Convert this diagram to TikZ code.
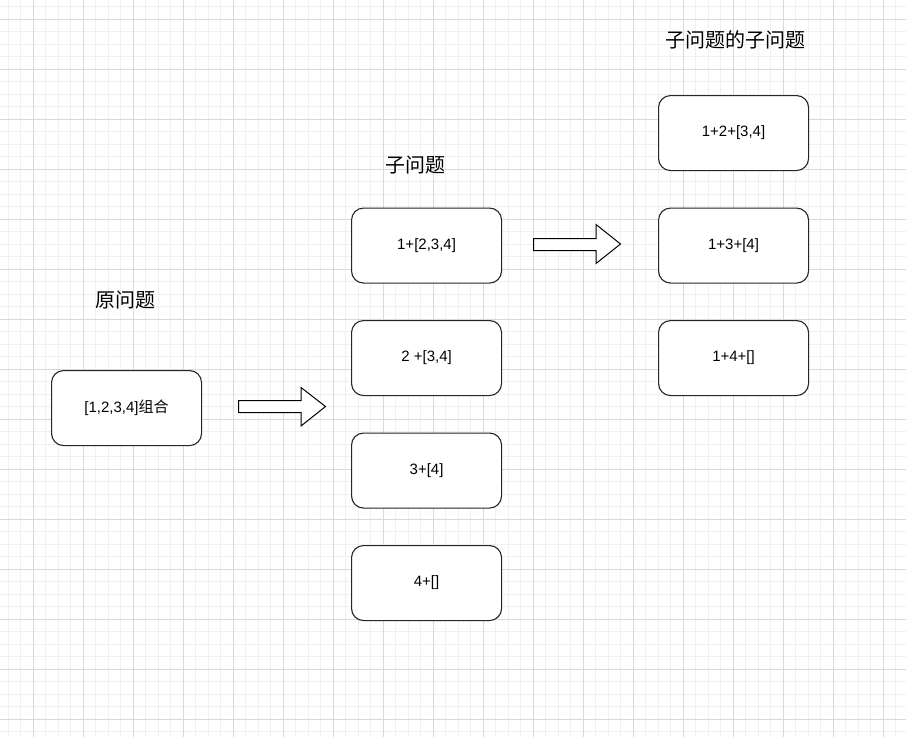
\documentclass[tikz,border=0pt]{standalone}
\usepackage{fontspec}
\setmainfont{Liberation Sans}
\newfontfamily\cjk{Noto Sans CJK SC}
\begin{document}
\begin{tikzpicture}[x=1pt,y=-1pt,
  box/.style={draw=black!85, line width=1.1pt, rounded corners=12pt, fill=white,
    minimum width=150pt, minimum height=75pt, inner sep=0pt, anchor=north west,
    font=\fontsize{15}{18}\selectfont},
  title/.style={font=\cjk\fontsize{20}{24}\selectfont, inner sep=0pt},
  fatarrow/.style={draw=black, line width=1pt, fill=white, line join=miter}]
\useasboundingbox (0,0) rectangle (906,737);
\fill[white] (0,0) rectangle (906,737);
% minor grid
\foreach \i in {0,...,73} {
  \draw[line width=0.8pt, color=black!6] ({8.33+12.5*\i},0) -- ({8.33+12.5*\i},737);
}
\foreach \j in {0,...,59} {
  \draw[line width=0.8pt, color=black!6] (0,{6.83+12.5*\j}) -- (906,{6.83+12.5*\j});
}
% major grid
\foreach \i in {0,...,17} {
  \draw[line width=0.8pt, color=black!15] ({33.33+50*\i},0) -- ({33.33+50*\i},737);
}
\foreach \j in {0,...,14} {
  \draw[line width=0.8pt, color=black!15] (0,{19.33+50*\j}) -- (906,{19.33+50*\j});
}
% titles
\node[title] (t1) at (125,300) {原问题};
\node[title] (t2) at (415,165) {子问题};
\node[title] (t3) at (735,40) {子问题的子问题};
% boxes
\node[box] (orig) at (51,370) {[1,2,3,4]{\cjk 组合}};
\node[box] (s1) at (351,207.5) {1+[2,3,4]};
\node[box] (s2) at (351,320) {2 +[3,4]};
\node[box] (s3) at (351,432.5) {3+[4]};
\node[box] (s4) at (351,545) {4+[]};
\node[box] (r1) at (658,95) {1+2+[3,4]};
\node[box] (r2) at (658,207.5) {1+3+[4]};
\node[box] (r3) at (658,320) {1+4+[]};
% block arrows
\coordinate (a1) at (238.5,406.5);
\draw[fatarrow] (a1) ++(0,-6) -- ++(62.5,0) -- ++(0,-13) -- ++(24.5,19) -- ++(-24.5,19.5) -- ++(0,-13.5) -- ++(-62.5,0) -- cycle;
\coordinate (a2) at (533.5,244.5);
\draw[fatarrow] (a2) ++(0,-6) -- ++(62.5,0) -- ++(0,-14) -- ++(24.5,19.5) -- ++(-24.5,19.5) -- ++(0,-13) -- ++(-62.5,0) -- cycle;
\end{tikzpicture}
\end{document}
